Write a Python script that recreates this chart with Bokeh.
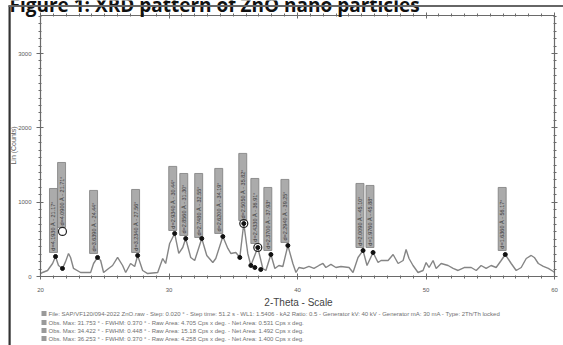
import math
from bokeh.plotting import figure
from bokeh.models import Label, BoxAnnotation, LinearAxis, FixedTicker
from bokeh.core.properties import value
from bokeh.embed import file_html
from bokeh.resources import INLINE

# ---- data ----
two_theta = [20.00, 20.16, 20.55, 20.94, 21.17, 21.40, 21.71, 21.95, 22.18, 22.34, 22.57, 23.12,
             23.90, 24.13, 24.44, 24.68, 24.91, 25.30, 25.61, 26.00, 26.39, 26.63, 27.01, 27.33,
             27.56, 27.95, 28.34, 29.12, 29.51, 29.74, 30.05, 30.44, 30.76, 31.07, 31.30, 31.69,
             32.00, 32.55, 32.94, 33.41, 33.64, 34.19, 34.58, 34.81, 35.20, 35.51, 35.82, 36.13,
             36.37, 36.91, 37.30, 37.54, 37.93, 38.24, 38.55, 38.86, 39.25, 39.64, 39.88, 40.11,
             40.50, 40.89, 41.28, 41.67, 41.98, 42.21, 42.60, 42.99, 43.38, 44.01, 44.32, 44.71,
             45.10, 45.41, 45.88, 46.27, 46.50, 47.05, 47.44, 47.83, 48.22, 48.45, 48.68, 48.99,
             49.38, 49.77, 50.01, 50.24, 50.55, 50.79, 51.18, 51.72, 52.11, 52.50, 52.97, 53.52,
             53.91, 54.29, 54.68, 55.07, 55.46, 55.85, 56.17, 56.63, 57.02, 57.41, 57.80, 58.19,
             58.43, 58.74, 59.13, 59.52, 59.91, 60.00]
counts = [40, 54, 81, 175, 269, 148, 108, 200, 310, 256, 108, 54,
          54, 175, 256, 215, 54, 108, 148, 256, 148, 54, 175, 135,
          283, 81, 40, 54, 242, 175, 444, 579, 310, 390, 511, 256,
          215, 511, 283, 188, 242, 538, 377, 310, 323, 256, 713, 310,
          148, 390, 108, 81, 296, 108, 148, 135, 417, 175, 54, 121,
          108, 135, 108, 148, 175, 121, 162, 121, 135, 121, 54, 256,
          350, 148, 323, 188, 215, 215, 296, 175, 215, 363, 242, 148,
          54, 81, 188, 121, 215, 108, 175, 148, 108, 81, 121, 121,
          81, 148, 108, 148, 121, 215, 296, 175, 81, 121, 242, 283,
          256, 175, 135, 108, 67, 60]

# peak search markers
mark_x = [21.17, 21.71, 24.44, 27.56, 30.44, 31.30, 32.55, 34.19, 35.82, 36.91, 37.93, 39.25,
          45.10, 45.88, 56.17, 35.51, 36.37, 36.68, 37.14]
mark_y = [269, 108, 256, 283, 579, 511, 511, 538, 713, 390, 296, 417,
          350, 323, 296, 256, 148, 121, 94]
ring_x = [21.71, 35.82, 36.91]
ring_y = [606, 713, 390]

# peak label boxes
label_x = [21.01, 21.64, 24.13, 27.40, 30.29, 31.15, 32.31, 33.87, 35.74, 36.68, 37.69, 39.02,
           44.86, 45.64, 55.93]
label_bottom = [323, 660, 310, 323, 619, 552, 525, 579, 754, 444, 350, 458, 390, 390, 350]
label_top = [1184, 1534, 1158, 1171, 1481, 1386, 1386, 1454, 1656, 1319, 1198, 1306, 1252,
             1225, 1198]
label_text = ["d=4.1930 Å - 21.17°", "d=4.0900 Å - 21.71°", "d=3.6390 Å - 24.44°",
              "d=3.2340 Å - 27.56°", "d=2.9340 Å - 30.44°", "d=2.8560 Å - 31.30°",
              "d=2.7480 Å - 32.55°", "d=2.6200 Å - 34.19°", "d=2.5050 Å - 35.82°",
              "d=2.4330 Å - 36.91°", "d=2.3700 Å - 37.93°", "d=2.2940 Å - 39.25°",
              "d=2.0090 Å - 45.10°", "d=1.9760 Å - 45.88°", "d=1.6360 Å - 56.17°"]

x_ticks = [20, 30, 40, 50, 60]
y_ticks = [0, 1000, 2000, 3000]
X_MIN, X_MAX = 20, 60
Y_MIN, Y_MAX = 0, 3511

legend_lines = [
    "File: SAP/VF120/094-2022 ZnO.raw - Step: 0.020 ° - Step time: 51.2 s - WL1: 1.5406 - kA2 Ratio: 0.5 - Generator kV: 40 kV - Generator mA: 30 mA - Type: 2Th/Th locked",
    "Obs. Max: 31.753 ° - FWHM: 0.370 ° - Raw Area: 4.705 Cps x deg. - Net Area: 0.531 Cps x deg.",
    "Obs. Max: 34.422 ° - FWHM: 0.448 ° - Raw Area: 15.18 Cps x deg. - Net Area: 1.492 Cps x deg.",
    "Obs. Max: 36.253 ° - FWHM: 0.370 ° - Raw Area: 4.258 Cps x deg. - Net Area: 1.400 Cps x deg.",
]


# page layout helpers (page pixels -> data units of the scanned chart)
def px_to_deg(px):
    return X_MIN + (px - 40) / 12.85


def py_to_cnt(py):
    return (276 - py) * 13.454


W, H = 563, 345
p = figure(width=W, height=H,
           x_range=(px_to_deg(0), px_to_deg(W)), y_range=(py_to_cnt(H), py_to_cnt(0)),
           output_backend="svg", toolbar_location=None,
           min_border=0, min_border_left=0, min_border_right=0, min_border_top=0,
           min_border_bottom=0,
           background_fill_color="white", border_fill_color="white",
           x_axis_type=None, y_axis_type=None)
p.outline_line_color = None
p.xgrid.visible = False
p.ygrid.visible = False

axis_col = "#6a6a6a"
lab_col = "#5a5a5a"


def make_axis(ticks, minor, loc, bounds, labels=True):
    ax = LinearAxis(ticker=FixedTicker(ticks=ticks, minor_ticks=minor),
                    fixed_location=loc, bounds=bounds)
    ax.axis_line_color = axis_col
    ax.axis_line_width = 1.2
    ax.major_tick_line_color = axis_col
    ax.minor_tick_line_color = axis_col
    ax.major_tick_in = 3
    ax.major_tick_out = 3
    ax.minor_tick_in = 1
    ax.minor_tick_out = 2
    ax.major_label_text_font_size = "6px"
    ax.major_label_text_color = lab_col
    ax.major_label_text_font = "Liberation Sans"
    if not labels:
        ax.major_label_overrides = {t: "" for t in ticks}
    return ax


x_minor = list(range(20, 61))
y_minor = list(range(0, 3600, 100))
bottom_ax = make_axis(x_ticks, x_minor, Y_MIN, (X_MIN, X_MAX))
bottom_ax.major_label_standoff = 8
left_ax = make_axis(y_ticks, y_minor, X_MIN, (Y_MIN, Y_MAX))
left_ax.major_tick_out = 4
left_ax.major_label_standoff = 5
top_ax = make_axis(x_ticks, x_minor, Y_MAX, (X_MIN, X_MAX), labels=False)
right_ax = make_axis(y_ticks, y_minor, X_MAX, (Y_MIN, Y_MAX), labels=False)
p.add_layout(bottom_ax, "below")
p.add_layout(left_ax, "left")
p.add_layout(top_ax, "above")
p.add_layout(right_ax, "right")

# pattern
p.line(two_theta, counts, line_color="#858585", line_width=1.4)

# label boxes
hw = 0.31
p.quad(left=[x - hw for x in label_x], right=[x + hw for x in label_x],
       bottom=label_bottom, top=label_top,
       fill_color="#ababab", line_color="#7c7c7c", line_width=0.8)
p.text(x=label_x, y=[b + 25 for b in label_bottom], text=label_text, angle=math.pi / 2,
       text_align="left", text_baseline="middle", text_font_size="5.5px",
       text_color="#3a3a3a", text_font=value("Liberation Sans"))

# markers
p.scatter(mark_x, mark_y, size=4, color="#111111")
p.scatter(ring_x, ring_y, size=8, fill_color=None, line_color="#222222", line_width=1.2)

# frame lines of the scanned figure
p.add_layout(BoxAnnotation(left=px_to_deg(8), right=px_to_deg(10.2), bottom=py_to_cnt(H + 5),
                           top=py_to_cnt(5), fill_color="#333333", fill_alpha=1,
                           line_color=None, level="overlay"))
p.add_layout(BoxAnnotation(left=px_to_deg(8), right=px_to_deg(W + 5), bottom=py_to_cnt(6.5),
                           top=py_to_cnt(4.5), fill_color="#666666", fill_alpha=1,
                           line_color=None, level="overlay"))

p.add_layout(Label(x=px_to_deg(9), y=py_to_cnt(4.5), text="Figure 1: XRD pattern of ZnO nano particles",
                   text_font="Open Sans", text_font_style="bold", text_font_size="19px",
                   text_color="#111111", text_align="left", text_baseline="alphabetic"))

p.add_layout(Label(x=px_to_deg(13), y=py_to_cnt(145), text="Lin (Counts)", angle=math.pi / 2,
                   text_font="Liberation Sans", text_font_size="7px", text_color=lab_col,
                   text_align="center", text_baseline="middle"))

p.add_layout(Label(x=px_to_deg(298), y=py_to_cnt(302), text="2-Theta - Scale",
                   text_font="Liberation Sans", text_font_size="10px", text_color="#444444",
                   text_align="center", text_baseline="middle"))

for i, line in enumerate(legend_lines):
    yy = [313, 322, 330, 338][i]
    p.add_layout(BoxAnnotation(left=px_to_deg(41), right=px_to_deg(46), bottom=py_to_cnt(yy + 2.5),
                               top=py_to_cnt(yy - 2.5), fill_color="#9a9a9a", fill_alpha=1,
                               line_color=None, level="overlay"))
    p.add_layout(Label(x=px_to_deg(48), y=py_to_cnt(yy), text=line,
                       text_font="Liberation Sans", text_font_size="6px", text_color="#707070",
                       text_align="left", text_baseline="middle"))

open("out.html", "w").write(file_html(p, INLINE))
